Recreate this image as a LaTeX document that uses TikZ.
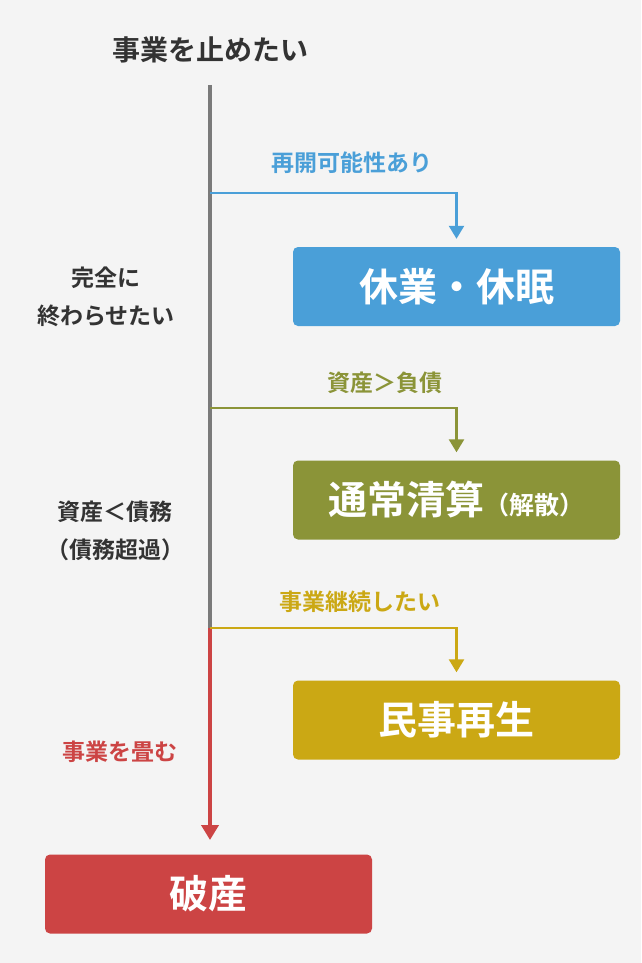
\documentclass[tikz,border=0pt]{standalone}
\usepackage{fontspec}
\setmainfont{Noto Sans CJK JP}[BoldFont={* Bold}]
\usetikzlibrary{arrows.meta}
\definecolor{bg}{HTML}{F4F4F4}
\definecolor{ink}{HTML}{333333}
\definecolor{trunk}{HTML}{7A7A7A}
\definecolor{cblue}{HTML}{4A9FD8}
\definecolor{colive}{HTML}{8B9438}
\definecolor{cyel}{HTML}{CBA814}
\definecolor{cred}{HTML}{CC4444}
\begin{document}
\begin{tikzpicture}[x=1pt,y=-1pt,
  box/.style={rounded corners=5pt,minimum width=327pt,minimum height=79pt,text=white,font=\bfseries\fontsize{39}{42}\selectfont,inner sep=0pt},
  lab/.style={font=\bfseries\fontsize{23}{38}\selectfont,align=center},
  br/.style={line width=2.5pt,-{Triangle[length=13pt,width=15pt]}}]
\fill[bg] (0,0) rectangle (641,963);
\useasboundingbox (0,0) rectangle (641,963);
\node[lab,text=ink,font=\bfseries\fontsize{28}{30}\selectfont] (title) at (210,50) {事業を止めたい};
\coordinate (top) at (210,85);
\coordinate (j1) at (210,193);
\coordinate (j2) at (210,408);
\coordinate (j3) at (210,628);
\coordinate (rend) at (210,840);
\node[box,fill=cblue] (b1) at (456.5,286.5) {休業・休眠};
\node[box,fill=colive] (b2) at (456.5,500) {通常清算\fontsize{25}{28}\selectfont（解散）};
\node[box,fill=cyel] (b3) at (456.5,720) {民事再生};
\node[box,fill=cred] (b4) at (208.5,894) {破産};
\draw[trunk,line width=4pt] (top) -- (j3);
\draw[cred,line width=4pt,-{Triangle[length=15pt,width=17pt]}] (j3) -- (rend);
\draw[cblue,br] (j1) -| ([yshift=8pt]b1.north);
\draw[colive,br] (j2) -| ([yshift=8pt]b2.north);
\draw[cyel,br] (j3) -| ([yshift=8pt]b3.north);
\node[lab,text=cblue] (l1) at (352,163) {再開可能性あり};
\node[lab,text=colive] (l2) at (385,383) {資産＞負債};
\node[lab,text=cyel] (l3) at (360,602) {事業継続したい};
\node[lab,text=ink] (l4) at (106,297) {完全に\\終わらせたい};
\node[lab,text=ink] (l5) at (115,531) {資産＜債務\\（債務超過）};
\node[lab,text=cred] (l6) at (120,752) {事業を畳む};
\end{tikzpicture}
\end{document}
